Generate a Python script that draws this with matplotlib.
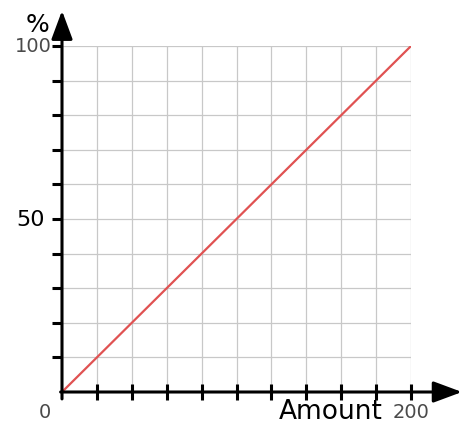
import numpy as np
import matplotlib.pyplot as plt

# data
amount = [0, 200]
percent = [0, 100]
x_grid = list(range(0, 201, 20))
y_grid = list(range(0, 101, 10))

fig = plt.figure(figsize=(4.66, 4.27), dpi=100)
ax = fig.add_axes([62 / 466, 34 / 427, 349 / 466, 346 / 427])
ax.set_xlim(0, 200)
ax.set_ylim(0, 100)

for s in ax.spines.values():
    s.set_visible(False)

# grid
for gx in x_grid[1:]:
    ax.plot([gx, gx], [0, 100], color='#c8c8c8', lw=0.9, zorder=1)
for gy in y_grid[1:]:
    ax.plot([0, 200], [gy, gy], color='#c8c8c8', lw=0.9, zorder=1)

# red line
ax.plot(amount, percent, color='#e05252', lw=1.6, zorder=3)

# axes with arrows (axes fraction coords)
arrow = dict(arrowstyle='-|>,head_length=1.75,head_width=0.65',
             lw=2.2, color='black', shrinkA=0, shrinkB=0)
ax.annotate('', xy=(0, 1.102), xytext=(0, -0.02), xycoords='axes fraction',
            arrowprops=arrow, annotation_clip=False, zorder=5)
ax.annotate('', xy=(1.146, 0), xytext=(-0.004, 0), xycoords='axes fraction',
            arrowprops=arrow, annotation_clip=False, zorder=5)

# ticks
ax.set_xticks(x_grid[1:])
ax.set_yticks(y_grid[1:])
ax.tick_params(axis='x', direction='inout', length=11, width=2.2, labelbottom=False)
ax.tick_params(axis='y', direction='out', length=7, width=2.2, labelleft=False)

# labels
ax.text(-0.03, 1.0, '100', transform=ax.transAxes, ha='right', va='center',
        fontsize=14, color='#4a4a4a')
ax.text(-0.05, 0.5, '50', transform=ax.transAxes, ha='right', va='center',
        fontsize=16, color='black')
ax.text(-0.05, -0.055, '0', transform=ax.transAxes, ha='center', va='center',
        fontsize=14, color='#4a4a4a')
ax.text(1.0, -0.055, '200', transform=ax.transAxes, ha='center', va='center',
        fontsize=14, color='#4a4a4a')
ax.text(0.92, -0.055, 'Amount', transform=ax.transAxes, ha='right', va='center',
        fontsize=19, color='black')
ax.text(-0.035, 1.065, '%', transform=ax.transAxes, ha='right', va='center',
        fontsize=18, color='black')

fig.savefig('out.png', dpi=100)
